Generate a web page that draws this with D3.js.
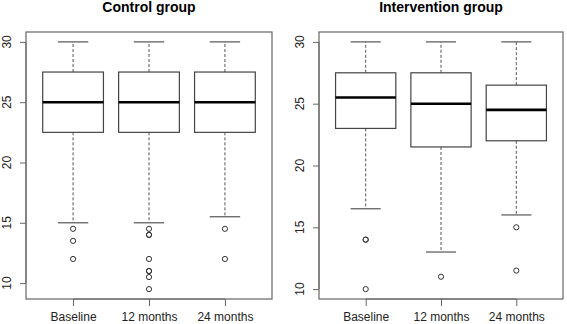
<!DOCTYPE html>
<html>
<head>
<meta charset="utf-8">
<script src="https://cdn.jsdelivr.net/npm/d3@7"></script>
<style>
  body { margin: 0; background: #fff; }
  text { font-family: "Liberation Sans", Arial, sans-serif; }
</style>
</head>
<body>
<div id="chart"></div>
<script>
// box stats per group: [lower whisker, q1, median, q3, upper whisker]
const categories = ["Baseline", "12 months", "24 months"];

const controlStats = [
  [15, 22.5, 25, 27.5, 30],
  [15, 22.5, 25, 27.5, 30],
  [15.5, 22.5, 25, 27.5, 30]
];
const controlOutliers = [
  [14.5, 13.5, 12],
  [14.5, 14, 14, 12, 11, 11, 10.5, 9.5],
  [14.5, 12]
];

const interventionStats = [
  [16.5, 23, 25.5, 27.5, 30],
  [13, 21.5, 25, 27.5, 30],
  [16, 22, 24.5, 26.5, 30]
];
const interventionOutliers = [
  [14, 14, 10],
  [11],
  [15, 11.5]
];

const yTicks = [10, 15, 20, 25, 30];

const W = 567, H = 324;
const svg = d3.select("#chart").append("svg")
  .attr("width", W).attr("height", H);

const frameCol = "#666";

function drawPanel(title, stats, outliers, left, right) {
  const top = 32, bottom = 299;
  const g = svg.append("g");

  // R style: pad the data range by 4% on each side
  const allVals = stats.flat().concat(outliers.flat());
  const lo = d3.min(allVals), hi = d3.max(allVals);
  const pad = (hi - lo) * 0.04;
  const y = d3.scaleLinear().domain([lo - pad, hi + pad]).range([bottom, top]);
  const x = d3.scaleLinear().domain([0.38, 3.62]).range([left, right]);
  const bw = x(1.4) - x(1);   // half box width
  const cw = x(1.2) - x(1);   // half cap width

  // frame
  g.append("rect")
    .attr("x", left).attr("y", top)
    .attr("width", right - left).attr("height", bottom - top)
    .attr("fill", "none").attr("stroke", frameCol).attr("stroke-width", 1.2);

  // y axis (labels drawn by hand so they can be rotated like R's)
  const yAxis = g.append("g")
    .attr("transform", "translate(" + left + ",0)")
    .call(d3.axisLeft(y).tickValues(yTicks).tickSize(6).tickSizeOuter(0).tickFormat(""));
  yAxis.select(".domain").attr("stroke", frameCol).attr("d", "M0," + y(10) + "V" + y(30));
  yAxis.selectAll(".tick line").attr("stroke", frameCol);
  g.selectAll(".ylab").data(yTicks).enter().append("text")
    .attr("class", "ylab")
    .attr("transform", d => "translate(" + (left - 15) + "," + y(d) + ") rotate(-90)")
    .attr("text-anchor", "middle")
    .attr("font-size", 12).attr("fill", "#222")
    .text(d => d);

  // x axis
  const xAxis = g.append("g")
    .attr("transform", "translate(0," + bottom + ")")
    .call(d3.axisBottom(x).tickValues([1, 2, 3]).tickSize(7).tickSizeOuter(0)
      .tickFormat((d, i) => categories[i]).tickPadding(6));
  xAxis.select(".domain").attr("stroke", frameCol).attr("d", "M" + x(1) + ",0H" + x(3));
  xAxis.selectAll(".tick line").attr("stroke", frameCol);
  xAxis.selectAll(".tick text").attr("font-size", 12).attr("fill", "#222");

  // boxes
  stats.forEach((s, i) => {
    const cx = x(i + 1);
    const bg = g.append("g");
    // whiskers
    bg.append("line").attr("x1", cx).attr("x2", cx)
      .attr("y1", y(s[3])).attr("y2", y(s[4]))
      .attr("stroke", "#555").attr("stroke-dasharray", "3,2");
    bg.append("line").attr("x1", cx).attr("x2", cx)
      .attr("y1", y(s[1])).attr("y2", y(s[0]))
      .attr("stroke", "#555").attr("stroke-dasharray", "3,2");
    // caps
    [s[0], s[4]].forEach(v => {
      bg.append("line").attr("x1", cx - cw).attr("x2", cx + cw)
        .attr("y1", y(v)).attr("y2", y(v))
        .attr("stroke", "#555").attr("stroke-width", 1.2);
    });
    // box
    bg.append("rect")
      .attr("x", cx - bw).attr("width", 2 * bw)
      .attr("y", y(s[3])).attr("height", y(s[1]) - y(s[3]))
      .attr("fill", "#fff").attr("stroke", "#444").attr("stroke-width", 1.2);
    // median
    bg.append("line").attr("x1", cx - bw).attr("x2", cx + bw)
      .attr("y1", y(s[2])).attr("y2", y(s[2]))
      .attr("stroke", "#000").attr("stroke-width", 2.6);
    // outliers
    bg.selectAll("circle").data(outliers[i]).enter().append("circle")
      .attr("cx", cx).attr("cy", d => y(d)).attr("r", 2.6)
      .attr("fill", "none").attr("stroke", "#333").attr("stroke-width", 1);
  });

  // title
  g.append("text")
    .attr("x", (left + right) / 2).attr("y", 12)
    .attr("text-anchor", "middle")
    .attr("font-size", 14).attr("font-weight", "bold")
    .text(title);
}

drawPanel("Control group", controlStats, controlOutliers, 26, 272);
drawPanel("Intervention group", interventionStats, interventionOutliers, 319, 563);
</script>
</body>
</html>
